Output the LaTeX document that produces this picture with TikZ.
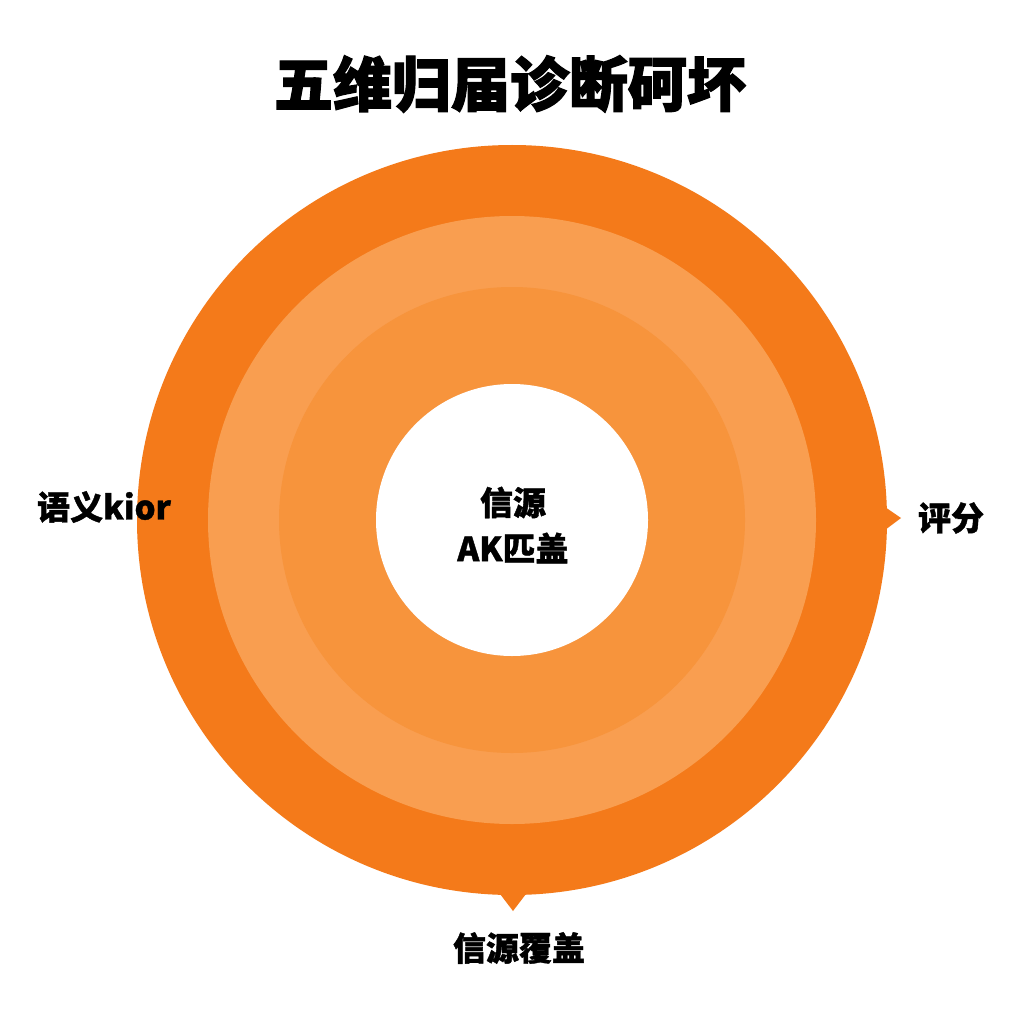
\documentclass[tikz,border=0pt]{standalone}
\usepackage{fontspec}
\setmainfont{Noto Sans CJK SC}
\newfontfamily\heavyfont{Noto Sans CJK SC}[BoldFeatures={FakeBold=1.2}]
\newfontfamily\heavierfont{Noto Sans CJK SC}[BoldFeatures={FakeBold=2}]
\definecolor{ringouter}{RGB}{244,122,26}
\definecolor{ringmid}{RGB}{249,158,80}
\definecolor{ringinner}{RGB}{247,148,60}
\tikzset{
  lbl/.style={font=\heavyfont\bfseries\fontsize{33}{40}\selectfont, text=black, inner sep=0pt},
}
\begin{document}
\begin{tikzpicture}[x=1pt,y=-1pt]
\useasboundingbox (0,0) rectangle (1024,1024);
\fill[white] (0,0) rectangle (1024,1024);
% rings
\fill[ringouter] (512,520) circle (375);
\fill[ringouter] (885,507) -- (901,518) -- (885,530) -- cycle;
\fill[ringouter] (497,890) -- (513,911) -- (529,890) -- cycle;
\fill[ringmid] (512,520) circle (304);
\fill[ringinner] (512,520) circle (233);
\fill[white] (512,520) circle (136);
% texts
\node[font=\heavierfont\bfseries\fontsize{59}{64}\selectfont, inner sep=0pt] (title) at (510,84) {五维归届诊断砢坏};
\node[lbl, align=center, font=\heavyfont\bfseries\fontsize{33}{46}\selectfont] (center) at (513,525) {信源\\AK匹盖};
\node[lbl] (left) at (104,507) {语义kior};
\node[lbl] (right) at (951,518) {评分};
\node[lbl] (bottom) at (519,948) {信源覆盖};
\end{tikzpicture}
\end{document}
